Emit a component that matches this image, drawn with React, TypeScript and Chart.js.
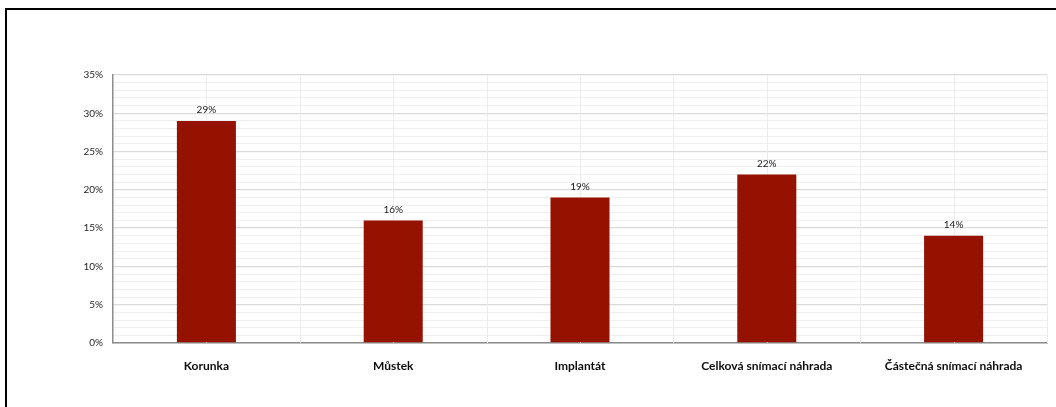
import React, { useEffect, useRef } from "react";
import { Chart, registerables } from "chart.js";

Chart.register(...registerables);

const categories = [
  "Korunka",
  "Můstek",
  "Implantát",
  "Celková snímací náhrada",
  "Částečná snímací náhrada",
];
const values = [29, 16, 19, 22, 14];
const yMax = 35;
const majorStep = 5;

const FONT = "Lato, 'Open Sans', sans-serif";

const dataLabelPlugin = {
  id: "dataLabels",
  afterDatasetsDraw(chart: any) {
    const ctx = chart.ctx;
    const meta = chart.getDatasetMeta(0);
    ctx.save();
    ctx.font = `10px ${FONT}`;
    ctx.fillStyle = "#1a1a1a";
    ctx.textAlign = "center";
    ctx.textBaseline = "middle";
    meta.data.forEach((bar: any, i: number) => {
      ctx.fillText(values[i] + "%", bar.x, bar.y - 11);
    });
    ctx.restore();
  },
};

const vGridPlugin = {
  id: "vGrid",
  beforeDatasetsDraw(chart: any) {
    const ctx = chart.ctx;
    const xs = chart.scales.x;
    const { top, bottom } = chart.chartArea;
    ctx.save();
    ctx.strokeStyle = "#ececec";
    ctx.lineWidth = 1;
    for (let i = 0; i < categories.length; i++) {
      const c = xs.getPixelForValue(i);
      const half = (xs.getPixelForValue(1) - xs.getPixelForValue(0)) / 2;
      [c, c + half].forEach((x) => {
        ctx.beginPath();
        ctx.moveTo(Math.round(x) + 0.5, top);
        ctx.lineTo(Math.round(x) + 0.5, bottom);
        ctx.stroke();
      });
    }
    ctx.restore();
  },
};

export default function App() {
  const ref = useRef<HTMLCanvasElement>(null);
  useEffect(() => {
    if (!ref.current) return;
    const chart = new Chart(ref.current, {
      type: "bar",
      data: {
        labels: categories,
        datasets: [
          {
            data: values,
            backgroundColor: "#951200",
            borderWidth: 0,
            categoryPercentage: 1,
            barPercentage: 0.316,
          },
        ],
      },
      plugins: [vGridPlugin, dataLabelPlugin],
      options: {
        animation: false,
        responsive: false,
        maintainAspectRatio: false,
        layout: { padding: { left: 0, right: 9, top: 75, bottom: 0 } },
        plugins: { legend: { display: false }, tooltip: { enabled: false } },
        scales: {
          x: {
            type: "category",
            offset: true,
            grid: { display: false, drawTicks: false },
            border: { display: true, color: "#8c8c8c", width: 1.5 },
            ticks: {
              padding: 16,
              color: "#0d0d0d",
              font: { family: FONT, size: 12, weight: "bold" },
              maxRotation: 0,
              autoSkip: false,
            },
            afterFit(scale: any) {
              scale.height = 64;
            },
          },
          y: {
            min: 0,
            max: yMax,
            grid: {
              drawTicks: false,
              color: (c: any) =>
                c.tick && c.tick.value % majorStep === 0 ? "#dadada" : "#efefef",
              lineWidth: (c: any) =>
                c.tick && c.tick.value % majorStep === 0 ? 1.3 : 1,
            },
            border: { display: true, color: "#8c8c8c", width: 1.5 },
            ticks: {
              stepSize: 1,
              padding: 10,
              color: "#262626",
              font: { family: FONT, size: 10 },
              autoSkip: false,
              callback: (v: any) => (v % majorStep === 0 ? v + "%" : ""),
            },
            afterFit(scale: any) {
              scale.width = 113;
            },
          },
        },
      },
    } as any);
    return () => chart.destroy();
  }, []);

  return (
    <div style={{ position: "fixed", left: 0, top: 0, width: 1056, height: 407, overflow: "hidden", background: "#fff" }}>
      <div
        style={{
          position: "absolute",
          left: 5,
          top: 8,
          width: 1070,
          height: 420,
          border: "2.5px solid #000",
          boxSizing: "border-box",
        }}
      />
      <canvas
        ref={ref}
        width={1056}
        height={407}
        style={{ position: "absolute", left: 0, top: 0, width: 1056, height: 407 }}
      />
    </div>
  );
}
